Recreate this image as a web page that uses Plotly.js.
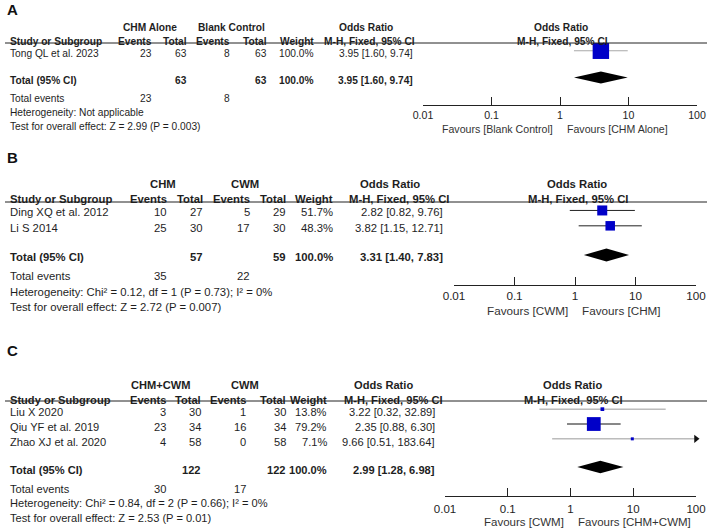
<!DOCTYPE html>
<html>
<head>
<meta charset="utf-8">
<script src="https://cdn.plot.ly/plotly-3.0.1.min.js"></script>
<style>body{margin:0;background:#fff}</style>
</head>
<body>
<div id="chart" style="width:708px;height:529px"></div>
<script>
// --- panel A: CHM alone vs blank control
const studiesA = ['Tong QL et al. 2023'];
const eventsTrtA = [23];
const totalTrtA = [63];
const eventsCtlA = [8];
const totalCtlA = [63];
const weightsA = [100.0];
const orA = [3.95];
const lowerA = [1.60];
const upperA = [9.74];
const pooledA = [3.95, 1.60, 9.74];
const groupsA = ['CHM Alone', 'Blank Control'];
const favoursA = ['Favours [Blank Control]', 'Favours [CHM Alone]'];
const hetA = 'Heterogeneity: Not applicable';
const testA = 'Test for overall effect: Z = 2.99 (P = 0.003)';

// --- panel B: CHM vs CWM
const studiesB = ['Ding XQ et al. 2012', 'Li S 2014'];
const eventsTrtB = [10, 25];
const totalTrtB = [27, 30];
const eventsCtlB = [5, 17];
const totalCtlB = [29, 30];
const weightsB = [51.7, 48.3];
const orB = [2.82, 3.82];
const lowerB = [0.82, 1.15];
const upperB = [9.76, 12.71];
const pooledB = [3.31, 1.40, 7.83];
const groupsB = ['CHM', 'CWM'];
const favoursB = ['Favours [CWM]', 'Favours [CHM]'];
const hetB = 'Heterogeneity: Chi² = 0.12, df = 1 (P = 0.73); I² = 0%';
const testB = 'Test for overall effect: Z = 2.72 (P = 0.007)';

// --- panel C: CHM+CWM vs CWM
const studiesC = ['Liu X 2020', 'Qiu YF et al. 2019', 'Zhao XJ et al. 2020'];
const eventsTrtC = [3, 23, 4];
const totalTrtC = [30, 34, 58];
const eventsCtlC = [1, 16, 0];
const totalCtlC = [30, 34, 58];
const weightsC = [13.8, 79.2, 7.1];
const orC = [3.22, 2.35, 9.66];
const lowerC = [0.32, 0.88, 0.51];
const upperC = [32.89, 6.30, 183.64];
const pooledC = [2.99, 1.28, 6.98];
const groupsC = ['CHM+CWM', 'CWM'];
const favoursC = ['Favours [CWM]', 'Favours [CHM+CWM]'];
const hetC = 'Heterogeneity: Chi² = 0.84, df = 2 (P = 0.66); I² = 0%';
const testC = 'Test for overall effect: Z = 2.53 (P = 0.01)';

const totalWeight = 100.0;
const tickVals = [0.01, 0.1, 1, 10, 100];
const tickText = ['0.01', '0.1', '1', '10', '100'];

const panels = [
  {label: 'A', studies: studiesA, evT: eventsTrtA, totT: totalTrtA, evC: eventsCtlA, totC: totalCtlA, w: weightsA,
   or: orA, lo: lowerA, hi: upperA, pooled: pooledA, groups: groupsA, favours: favoursA, het: hetA, test: testA},
  {label: 'B', studies: studiesB, evT: eventsTrtB, totT: totalTrtB, evC: eventsCtlB, totC: totalCtlB, w: weightsB,
   or: orB, lo: lowerB, hi: upperB, pooled: pooledB, groups: groupsB, favours: favoursB, het: hetB, test: testB},
  {label: 'C', studies: studiesC, evT: eventsTrtC, totT: totalTrtC, evC: eventsCtlC, totC: totalCtlC, w: weightsC,
   or: orC, lo: lowerC, hi: upperC, pooled: pooledC, groups: groupsC, favours: favoursC, het: hetC, test: testC}
];

// pixel geometry of each panel (layout only) - the three panels were scaled a little differently
const geom = [
  {labelY: 9, lineY: 43, axisY: 105, ax0: 423, ax1: 697, cols: [153, 188, 231, 268, 315, 414], fs: 10.2,
   groupX: [150, 232], orX: 366, mhX: 369, fX: 561, favDy: 24, standoff: 0, shift: -3,
   refColor: '#333', ciColor: ['#a8a8a8']},
  {labelY: 158, lineY: 202, axisY: 285, ax0: 454, ax1: 696, cols: [168, 204, 251, 287, 334, 444], fs: 11.3,
   groupX: [163, 245], orX: 390, mhX: 399, fX: 577, favDy: 25, standoff: 0, shift: -2,
   refColor: '#999', ciColor: ['#222', '#222']},
  {labelY: 350, lineY: 401, axisY: 496, ax0: 445, ax1: 696, cols: [167, 202, 247, 287, 328, 436], fs: 11.1,
   groupX: [160, 245], orX: 383, mhX: 393, fX: 572, favDy: 26, standoff: 2, shift: -3,
   refColor: '#999', ciColor: ['#999', '#111', '#999']}
];

const W = 708, H = 529;
const px = x => x / W;
const py = y => 1 - y / H;
const family = 'Liberation Sans, Arial, sans-serif';
const b = s => '<b>' + s + '</b>';
const ci = (e, l, u) => e.toFixed(2) + ' [' + l.toFixed(2) + ', ' + u.toFixed(2) + ']';
const sum = a => a.reduce((s, v) => s + v, 0);

let traces = [];
let annotations = [];
let shapes = [];
let layout = {
  width: W, height: H,
  margin: {l: 0, r: 0, t: 0, b: 0},
  paper_bgcolor: '#fff', plot_bgcolor: 'rgba(0,0,0,0)',
  font: {family: family, size: 11, color: '#1e1e1e'}, showlegend: false
};

panels.forEach(function(p, k) {
  const g = geom[k];
  const n = p.studies.length;
  const ax = k === 0 ? '' : String(k + 1);
  const xa = 'x' + ax, ya = 'y' + ax;
  const top = -0.55, totalRow = n - 1 + 1.9, bottom = totalRow + 1.95;
  const pitch = (g.axisY - g.lineY) / (bottom - top);
  const rowPx = r => g.lineY + (r - top) * pitch;
  const maxX = tickVals[tickVals.length - 1];
  const font = {family: family, size: g.fs, color: '#1e1e1e'};

  layout['xaxis' + ax] = {
    type: 'log', range: [-2, 2], domain: [px(g.ax0), px(g.ax1)], anchor: ya,
    showline: true, linecolor: '#222', linewidth: 1,
    ticks: 'inside', ticklen: 8, tickcolor: '#222', tickwidth: 1,
    tickvals: tickVals, ticktext: tickText, tickfont: Object.assign({}, font, {size: g.fs + 0.4}),
    ticklabelstandoff: g.standoff,
    showgrid: false, zeroline: false, fixedrange: true
  };
  layout['yaxis' + ax] = {
    domain: [py(g.axisY), py(g.lineY)], range: [bottom, top],
    visible: false, fixedrange: true
  };

  // header rule and line of no effect
  shapes.push({type: 'line', xref: 'paper', yref: 'paper', x0: px(5), x1: px(707), y0: py(g.lineY), y1: py(g.lineY),
    line: {color: '#222', width: 1}});
  shapes.push({type: 'line', xref: xa, yref: 'paper', x0: Math.log10(1), x1: Math.log10(1),
    y0: py(g.axisY), y1: py(g.lineY), line: {color: g.refColor, width: 1}});

  // confidence intervals
  p.studies.forEach(function(s, i) {
    traces.push({x: [p.lo[i], p.hi[i]], y: [i, i], xaxis: xa, yaxis: ya, mode: 'lines',
      line: {color: g.ciColor[i], width: 1}, hoverinfo: 'skip'});
  });

  // study squares, sized by weight
  traces.push({x: p.or, y: p.studies.map((s, i) => i), xaxis: xa, yaxis: ya, mode: 'markers',
    marker: {symbol: 'square', color: '#0000c8', opacity: 1, line: {width: 0},
      size: p.w.map(w => Math.max(3, 0.52 * Math.pow(w, 0.75)))},
    hoverinfo: 'skip'});

  // arrows where CI goes beyond the axis
  const cut = p.hi.map((u, i) => u > maxX ? i : -1).filter(i => i >= 0);
  if (cut.length) {
    traces.push({x: cut.map(() => maxX), y: cut, xaxis: xa, yaxis: ya, mode: 'markers', cliponaxis: false,
      marker: {symbol: 'triangle-right', size: 7, color: '#111'}, hoverinfo: 'skip'});
  }

  // pooled diamond
  const est = p.pooled[0], lo = p.pooled[1], hi = p.pooled[2];
  const dh = 0.42;
  traces.push({x: [lo, est, hi, est, lo], y: [totalRow, totalRow - dh, totalRow, totalRow + dh, totalRow],
    xaxis: xa, yaxis: ya, mode: 'lines', fill: 'toself', fillcolor: '#000', line: {width: 0, color: '#000'},
    hoverinfo: 'skip'});

  // table text
  function t(text, x, r, anchor) {
    annotations.push({text: text, x: px(x), xref: 'paper', y: py(rowPx(r)), yref: 'paper',
      xanchor: anchor, yanchor: 'middle', yshift: g.shift, showarrow: false, font: font});
  }
  const c = g.cols;
  t(b(p.groups[0]), g.groupX[0], -1.85, 'center');
  t(b(p.groups[1]), g.groupX[1], -1.85, 'center');
  t(b('Odds Ratio'), g.orX, -1.85, 'center');
  t(b('Odds Ratio'), g.fX, -1.85, 'center');
  t(b('Study or Subgroup'), 8, -0.85, 'left');
  ['Events', 'Total', 'Events', 'Total', 'Weight'].forEach((h, j) => t(b(h), c[j] + 1, -0.85, 'right'));
  t(b('M-H, Fixed, 95% CI'), g.mhX, -0.85, 'center');
  t(b('M-H, Fixed, 95% CI'), g.fX + 1, -0.85, 'center');

  p.studies.forEach(function(s, i) {
    t(s, 8, i, 'left');
    t(String(p.evT[i]), c[0] + 1, i, 'right');
    t(String(p.totT[i]), c[1] + 1, i, 'right');
    t(String(p.evC[i]), c[2] + 1, i, 'right');
    t(String(p.totC[i]), c[3] + 1, i, 'right');
    t(p.w[i].toFixed(1) + '%', c[4] + 1, i, 'right');
    t(ci(p.or[i], p.lo[i], p.hi[i]), c[5] + 1, i, 'right');
  });

  t(b('Total (95% CI)'), 8, totalRow, 'left');
  t(b(String(sum(p.totT))), c[1] + 1, totalRow, 'right');
  t(b(String(sum(p.totC))), c[3] + 1, totalRow, 'right');
  t(b(totalWeight.toFixed(1) + '%'), c[4] + 1, totalRow, 'right');
  t(b(ci(est, lo, hi)), c[5] + 1, totalRow, 'right');
  t('Total events', 8, totalRow + 1.25, 'left');
  t(String(sum(p.evT)), c[0] + 1, totalRow + 1.25, 'right');
  t(String(sum(p.evC)), c[2] + 1, totalRow + 1.25, 'right');
  t(p.het, 8, totalRow + 2.25, 'left');
  t(p.test, 8, totalRow + 3.25, 'left');

  // favours labels under the axis
  const fav = Object.assign({}, font, {size: g.fs + 0.4, color: '#333'});
  annotations.push({text: p.favours[0], x: 0, xref: xa, xanchor: 'right', xshift: -5,
    y: py(g.axisY + g.favDy), yref: 'paper', yanchor: 'middle', showarrow: false, font: fav});
  annotations.push({text: p.favours[1], x: 0, xref: xa, xanchor: 'left', xshift: 5,
    y: py(g.axisY + g.favDy), yref: 'paper', yanchor: 'middle', showarrow: false, font: fav});

  // panel letter
  annotations.push({text: b(p.label), x: px(5), xref: 'paper', xanchor: 'left', y: py(g.labelY), yref: 'paper',
    yanchor: 'middle', showarrow: false, font: {family: family, size: 15, color: '#111'}});
});

layout.annotations = annotations;
layout.shapes = shapes;

Plotly.newPlot('chart', traces, layout, {displayModeBar: false, staticPlot: true});
</script>
</body>
</html>
